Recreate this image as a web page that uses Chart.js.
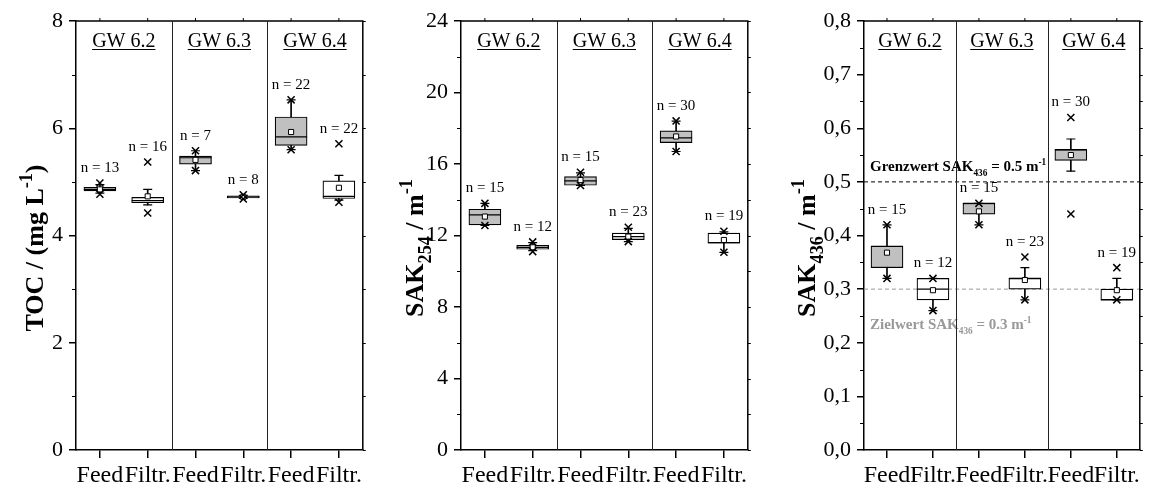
<!DOCTYPE html>
<html>
<head>
<meta charset="utf-8">
<script src="https://cdn.jsdelivr.net/npm/chart.js@4.4.1/dist/chart.umd.min.js"></script>
<style>
  body { margin: 0; background: #fff; width: 1157px; height: 484px; position: relative; overflow: hidden; }
  .panel { position: absolute; top: 0; }
</style>
</head>
<body>
<div class="panel" style="left:0"><canvas id="toc" width="380" height="484"></canvas></div>
<div class="panel" style="left:380px"><canvas id="sak254" width="385" height="484"></canvas></div>
<div class="panel" style="left:760px"><canvas id="sak436" width="397" height="484"></canvas></div>
<script>
const SERIF = "'Liberation Serif', 'Times New Roman', serif";

const categories = ['Feed', 'Filtr.', 'Feed', 'Filtr.', 'Feed', 'Filtr.'];
const groupNames = ['GW 6.2', 'GW 6.3', 'GW 6.4'];
const boxFills = ['#c0c0c0', '#ffffff', '#c0c0c0', '#ffffff', '#c0c0c0', '#ffffff'];

// TOC in mg/L
const tocN = [13, 16, 7, 8, 22, 22];
const tocWhiskerLow = [4.79, 4.57, 5.21, 4.69, 5.60, 4.66];
const tocQ1 = [4.83, 4.61, 5.33, 4.70, 5.68, 4.69];
const tocMedian = [4.86, 4.65, 5.45, 4.72, 5.84, 4.73];
const tocQ3 = [4.90, 4.71, 5.48, 4.74, 6.21, 5.02];
const tocWhiskerHigh = [4.95, 4.86, 5.58, 4.75, 6.53, 5.12];
const tocMean = [4.86, 4.73, 5.41, 4.72, 5.93, 4.89];
const tocMax = [4.98, 5.37, 5.58, 4.76, 6.53, 5.71];
const tocMin = [4.77, 4.42, 5.21, 4.68, 5.60, 4.62];

// SAK 254 nm in 1/m
const sak254N = [15, 12, 15, 23, 30, 19];
const sak254WhiskerLow = [12.56, 11.15, 14.80, 11.66, 16.70, 11.06];
const sak254Q1 = [12.59, 11.23, 14.81, 11.77, 17.20, 11.57];
const sak254Median = [13.15, 11.34, 15.06, 11.94, 17.46, 11.60];
const sak254Q3 = [13.47, 11.45, 15.30, 12.13, 17.85, 12.13];
const sak254WhiskerHigh = [13.80, 11.60, 15.50, 12.40, 18.40, 12.20];
const sak254Mean = [13.06, 11.34, 15.10, 11.94, 17.54, 11.75];
const sak254Max = [13.80, 11.64, 15.54, 12.46, 18.41, 12.24];
const sak254Min = [12.56, 11.10, 14.80, 11.66, 16.70, 11.06];

// SAK 436 nm in 1/m
const sak436N = [15, 12, 15, 23, 30, 19];
const sak436WhiskerLow = [0.32, 0.26, 0.42, 0.28, 0.52, 0.28];
const sak436Q1 = [0.34, 0.28, 0.44, 0.30, 0.54, 0.28];
const sak436Median = [0.38, 0.30, 0.46, 0.32, 0.56, 0.28];
const sak436Q3 = [0.38, 0.32, 0.46, 0.32, 0.56, 0.30];
const sak436WhiskerHigh = [0.42, 0.32, 0.46, 0.34, 0.58, 0.32];
const sak436Mean = [0.368, 0.298, 0.445, 0.317, 0.55, 0.298];
const sak436Max = [0.42, 0.32, 0.46, 0.36, 0.62, 0.34];
const sak436Min = [0.32, 0.26, 0.42, 0.28, 0.44, 0.28];

const sak436Limits = [
  { value: 0.5, color: '#000', parts: [{ t: 'Grenzwert SAK' }, { t: '436', sub: true }, { t: ' = 0.5 m' }, { t: '-1', sup: true }], dy: -11 },
  { value: 0.3, color: '#999', parts: [{ t: 'Zielwert SAK' }, { t: '436', sub: true }, { t: ' = 0.3 m' }, { t: '-1', sup: true }], dy: 40 }
];

// text with sub-/superscripts, left aligned on the baseline
function richWidth(ctx, parts, size, weight, small) {
  let w = 0;
  parts.forEach(p => {
    const s = p.sub || p.sup ? size * small : size;
    ctx.font = `${weight} ${s}px ${SERIF}`;
    w += ctx.measureText(p.t).width;
  });
  return w;
}
function drawRich(ctx, parts, x, y, size, weight, color, small) {
  ctx.fillStyle = color;
  ctx.textBaseline = 'alphabetic';
  ctx.textAlign = 'left';
  parts.forEach(p => {
    const s = p.sub || p.sup ? size * small : size;
    const dy = p.sub ? size * 0.32 : p.sup ? -size * 0.42 : 0;
    ctx.font = `${weight} ${s}px ${SERIF}`;
    ctx.fillText(p.t, x, y + dy);
    x += ctx.measureText(p.t).width;
  });
}

const panelDecor = {
  id: 'panelDecor',
  beforeDatasetsDraw(chart, args, opts) {
    const { ctx, chartArea: a, scales: { y } } = chart;
    (opts.limits || []).forEach(l => {
      const py = y.getPixelForValue(l.value);
      ctx.save();
      ctx.strokeStyle = l.color;
      ctx.lineWidth = 1;
      ctx.setLineDash([4, 3]);
      ctx.beginPath();
      ctx.moveTo(a.left, py);
      ctx.lineTo(a.right, py);
      ctx.stroke();
      ctx.restore();
      ctx.save();
      drawRich(ctx, l.parts, a.left + 6, py + l.dy, 15, 'bold', l.color, 0.62);
      ctx.restore();
    });
  },
  afterDraw(chart, args, opts) {
    const { ctx, chartArea: a, scales: { x, y } } = chart;
    ctx.save();
    ctx.strokeStyle = '#000';

    // frame on top and right
    ctx.lineWidth = 1.5;
    ctx.beginPath();
    ctx.moveTo(a.left, a.top);
    ctx.lineTo(a.right, a.top);
    ctx.lineTo(a.right, a.bottom);
    ctx.stroke();

    // minor ticks on the left, mirrored ticks on the right and top
    ctx.lineWidth = 1;
    const step = opts.step;
    ctx.beginPath();
    for (let v = y.min; v <= y.max + 1e-9; v += step / 2) {
      const py = Math.round(y.getPixelForValue(v)) + 0.5;
      const major = Math.abs(v / step - Math.round(v / step)) < 1e-6;
      if (!major) {
        ctx.moveTo(a.left, py);
        ctx.lineTo(a.left - 4, py);
      }
      ctx.moveTo(a.right, py);
      ctx.lineTo(a.right + 3, py);
    }
    categories.forEach((c, i) => {
      const px = x.getPixelForValue(i);
      ctx.moveTo(px, a.top);
      ctx.lineTo(px, a.top - 3);
    });
    ctx.stroke();

    // separators between the wells
    ctx.strokeStyle = '#222';
    ctx.beginPath();
    [1, 3].forEach(i => {
      const px = Math.round((x.getPixelForValue(i) + x.getPixelForValue(i + 1)) / 2) + 0.5;
      ctx.moveTo(px, a.top);
      ctx.lineTo(px, a.bottom);
    });
    ctx.stroke();

    // well headers, underlined
    ctx.fillStyle = '#000';
    ctx.font = `20px ${SERIF}`;
    ctx.textAlign = 'center';
    ctx.textBaseline = 'alphabetic';
    groupNames.forEach((g, k) => {
      const cx = (x.getPixelForValue(2 * k) + x.getPixelForValue(2 * k + 1)) / 2;
      ctx.fillText(g, cx, 47);
      const w = ctx.measureText(g).width;
      ctx.fillRect(cx - w / 2, 49, w, 1);
    });

    // sample counts above each box
    ctx.font = `15px ${SERIF}`;
    ctx.textBaseline = 'middle';
    opts.counts.forEach((n, i) => {
      const top = Math.max(opts.tops[i], opts.whiskerTops[i]);
      ctx.fillText('n = ' + n, x.getPixelForValue(i), y.getPixelForValue(top) - 15);
    });

    // rotated axis title
    ctx.save();
    const size = 26;
    const w = richWidth(ctx, opts.title, size, 'bold', 0.7);
    ctx.translate(opts.titleX, 248);
    ctx.rotate(-Math.PI / 2);
    drawRich(ctx, opts.title, -w / 2, 0, size, 'bold', '#000', 0.7);
    ctx.restore();

    ctx.restore();
  }
};

function pointSet(values, style, radius, width, order, fill) {
  return {
    type: 'line',
    data: values,
    showLine: false,
    pointStyle: style,
    pointRadius: radius,
    pointHoverRadius: radius,
    pointBorderWidth: width,
    pointBorderColor: '#000',
    pointBackgroundColor: fill || '#000',
    order
  };
}

function boxChart(id, s) {
  const whiskers = s.whiskerLow.map((lo, i) => [lo, s.whiskerHigh[i]]);
  const boxes = s.q1.map((q, i) => [q, s.q3[i]]);
  return new Chart(document.getElementById(id), {
    data: {
      labels: categories,
      datasets: [
        { type: 'bar', data: whiskers, backgroundColor: '#000', borderWidth: 0, barThickness: 1, grouped: false, order: 7 },
        { type: 'bar', data: boxes, backgroundColor: boxFills, borderColor: '#000', borderWidth: 1.2, borderSkipped: false, barThickness: 32, grouped: false, order: 6 },
        pointSet(s.median, 'line', 16, 1.2, 5),
        pointSet(s.whiskerHigh, 'line', 4.5, 1.2, 4),
        pointSet(s.whiskerLow, 'line', 4.5, 1.2, 4),
        pointSet(s.mean, 'rect', 3.6, 1, 3, '#fff'),
        pointSet(s.max, 'crossRot', 5, 1.5, 2),
        pointSet(s.min, 'crossRot', 5, 1.5, 1)
      ]
    },
    options: {
      responsive: false,
      animation: false,
      events: [],
      layout: { padding: { top: 21, right: s.rightPad, left: 0, bottom: 0 } },
      plugins: {
        legend: { display: false },
        tooltip: { enabled: false },
        panelDecor: {
          step: s.step,
          counts: s.n,
          tops: s.max,
          whiskerTops: s.whiskerHigh,
          title: s.title,
          titleX: s.titleX,
          limits: s.limits
        }
      },
      scales: {
        x: {
          type: 'category',
          offset: true,
          grid: { offset: false, drawOnChartArea: false, tickLength: 8, color: '#000', lineWidth: 1.5 },
          border: { color: '#000', width: 1.5 },
          ticks: { color: '#000', font: { family: SERIF, size: 24 }, padding: 3, autoSkip: false, maxRotation: 0 },
          afterFit(scale) { scale.height = 34; }
        },
        y: {
          min: 0,
          max: s.max_,
          grid: { drawOnChartArea: false, tickLength: 7, color: '#000', lineWidth: 1.5 },
          border: { color: '#000', width: 1.5 },
          ticks: { stepSize: s.step, color: '#000', font: { family: SERIF, size: 22 }, padding: 6, callback: s.format },
          afterFit(scale) { scale.width = s.yWidth; }
        }
      }
    },
    plugins: [panelDecor]
  });
}

boxChart('toc', {
  n: tocN, whiskerLow: tocWhiskerLow, q1: tocQ1, median: tocMedian, q3: tocQ3,
  whiskerHigh: tocWhiskerHigh, mean: tocMean, max: tocMax, min: tocMin,
  max_: 8, step: 2, format: v => v, yWidth: 76, rightPad: 12, titleX: 43,
  title: [{ t: 'TOC / (mg L' }, { t: '-1', sup: true }, { t: ')' }]
});

boxChart('sak254', {
  n: sak254N, whiskerLow: sak254WhiskerLow, q1: sak254Q1, median: sak254Median, q3: sak254Q3,
  whiskerHigh: sak254WhiskerHigh, mean: sak254Mean, max: sak254Max, min: sak254Min,
  max_: 24, step: 4, format: v => v, yWidth: 81, rightPad: 12, titleX: 43,
  title: [{ t: 'SAK' }, { t: '254', sub: true }, { t: ' / m' }, { t: '-1', sup: true }]
});

boxChart('sak436', {
  n: sak436N, whiskerLow: sak436WhiskerLow, q1: sak436Q1, median: sak436Median, q3: sak436Q3,
  whiskerHigh: sak436WhiskerHigh, mean: sak436Mean, max: sak436Max, min: sak436Min,
  max_: 0.8, step: 0.1, format: v => v.toFixed(1).replace('.', ','), yWidth: 104, rightPad: 10, titleX: 55,
  title: [{ t: 'SAK' }, { t: '436', sub: true }, { t: ' / m' }, { t: '-1', sup: true }],
  limits: sak436Limits
});
</script>
</body>
</html>
